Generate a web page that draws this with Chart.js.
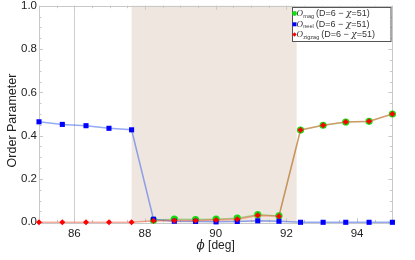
<!DOCTYPE html>
<html>
<head>
<meta charset="utf-8">
<script src="https://cdn.jsdelivr.net/npm/chart.js@4.4.0/dist/chart.umd.min.js"></script>
<style>
    html, body { margin: 0; padding: 0; background: #fff; }
    #wrap { width: 415px; height: 260px; }
</style>
</head>
<body>
<div id="wrap"><canvas id="orderChart"></canvas></div>
<script>
// phi values in degrees
const phi = [85.0, 85.66, 86.33, 86.98, 87.62, 88.24, 88.83, 89.43, 90.01, 90.61, 91.19, 91.79, 92.4, 93.04, 93.68, 94.34, 95.0];
const magValues = [null, null, null, null, null, 0.010, 0.015, 0.013, 0.015, 0.019, 0.035, 0.030, 0.426, 0.448, 0.463, 0.466, 0.500];
const neelValues = [0.464, 0.452, 0.446, 0.434, 0.427, 0.014, 0.005, 0.004, 0.002, 0.004, 0.007, 0.005, 0.0, 0.0, 0.0, 0.0, 0.0];
const zigzagValues = [0, 0, 0, 0, 0, 0.007, 0.008, 0.008, 0.011, 0.014, 0.032, 0.028, 0.426, 0.448, 0.463, 0.466, 0.500];

const seriesNames = ['mag', 'neel', 'zigzag'];
const legendSuffix = ['(D=6 \u2212 ', '\u03C7', '=51)'];
const xTicks = [86, 88, 90, 92, 94];
const yTicks = [0, 0.2, 0.4, 0.6, 0.8, 1.0];
const shadeRange = [87.62, 92.29];
const gridAt = [86];
const xTitle = ['\u03D5', ' [deg]'];
const yTitle = 'Order Parameter';

function toPoints(values) {
    return phi.map((x, i) => ({ x: x, y: values[i] }));
}

const markerColors = ['#11dd11', '#0000ff', '#ff0000'];

// shading, grid line, frame and ticks (Mathematica style)
const framePlugin = {
    id: 'frame',
    beforeDatasetsDraw(chart) {
        const ctx = chart.ctx;
        const a = chart.chartArea;
        const x = chart.scales.x, y = chart.scales.y;
        ctx.save();
        const x0 = x.getPixelForValue(shadeRange[0]);
        const x1 = x.getPixelForValue(shadeRange[1]);
        ctx.fillStyle = '#efe6df';
        ctx.fillRect(x0, a.top, x1 - x0, a.bottom - a.top);

        ctx.strokeStyle = '#cfcfcf';
        ctx.lineWidth = 1;
        gridAt.forEach(v => {
            const px = Math.round(x.getPixelForValue(v)) + 0.5;
            ctx.beginPath();
            ctx.moveTo(px, a.top);
            ctx.lineTo(px, a.bottom);
            ctx.stroke();
        });

        ctx.strokeStyle = '#c8c8c8';
        ctx.strokeRect(Math.round(a.left) + 0.5, Math.round(a.top) + 0.5,
            Math.round(a.right - a.left), Math.round(a.bottom - a.top));

        // ticks on all four sides
        ctx.beginPath();
        for (let v = 85; v <= 95.001; v += 0.5) {
            const px = Math.round(x.getPixelForValue(v)) + 0.5;
            const len = xTicks.includes(Math.round(v * 10) / 10) ? 4 : 2.5;
            ctx.moveTo(px, a.bottom); ctx.lineTo(px, a.bottom - len);
            ctx.moveTo(px, a.top); ctx.lineTo(px, a.top + len);
        }
        for (let i = 0; i <= 20; i++) {
            const v = i * 0.05;
            const py = Math.round(y.getPixelForValue(v)) + 0.5;
            const len = i % 4 === 0 ? 4 : 2.5;
            ctx.moveTo(a.left, py); ctx.lineTo(a.left + len, py);
            ctx.moveTo(a.right, py); ctx.lineTo(a.right - len, py);
        }
        ctx.stroke();
        ctx.restore();
    },
    afterDraw(chart) {
        const ctx = chart.ctx;
        const a = chart.chartArea;
        ctx.save();
        ctx.fillStyle = '#222';
        ctx.textBaseline = 'middle';

        // y title
        ctx.save();
        ctx.translate(12.7, 120.5);
        ctx.rotate(-Math.PI / 2);
        ctx.textAlign = 'center';
        ctx.font = '12.5px "Liberation Sans", Arial, sans-serif';
        ctx.fillText(yTitle, 0, 0);
        ctx.restore();

        // x title
        ctx.font = 'italic 12px "DejaVu Serif", serif';
        const w0 = ctx.measureText(xTitle[0]).width;
        ctx.font = '12px "Liberation Sans", Arial, sans-serif';
        const w1 = ctx.measureText(xTitle[1]).width;
        let tx = (a.left + a.right) / 2 - (w0 + w1) / 2;
        ctx.textAlign = 'left';
        ctx.font = 'italic 12px "DejaVu Serif", serif';
        ctx.fillText(xTitle[0], tx, 246);
        ctx.font = '12px "Liberation Sans", Arial, sans-serif';
        ctx.fillText(xTitle[1], tx + w0, 246);

        // legend box
        const bx = 292.5, by = 7.5, bw = 98.5, bh = 34;
        ctx.fillStyle = '#fff';
        ctx.fillRect(bx, by, bw, bh);
        ctx.strokeStyle = '#555';
        ctx.lineWidth = 1;
        ctx.strokeRect(bx, by, bw, bh);

        const rows = [13.5, 24.3, 34.5];
        seriesNames.forEach((name, i) => {
            const ry = rows[i];
            ctx.fillStyle = markerColors[i];
            ctx.beginPath();
            if (i === 0) {
                ctx.arc(294.5, ry, 2.4, 0, Math.PI * 2);
            } else if (i === 1) {
                ctx.rect(292.5, ry - 2, 4, 4);
            } else {
                ctx.moveTo(294.5, ry - 2.2); ctx.lineTo(296.7, ry);
                ctx.lineTo(294.5, ry + 2.2); ctx.lineTo(292.3, ry);
                ctx.closePath();
            }
            ctx.fill();

            ctx.fillStyle = '#333';
            let cx = 296.5;
            ctx.font = 'italic 9px "Liberation Serif", serif';
            ctx.fillText('O', cx, ry);
            cx += ctx.measureText('O').width + 0.3;
            ctx.font = '5.5px "Liberation Sans", Arial, sans-serif';
            ctx.fillText(name, cx, ry + 2.5);
            cx += ctx.measureText(name).width + 2;
            ctx.font = '9px "Liberation Sans", Arial, sans-serif';
            ctx.fillText(legendSuffix[0], cx, ry);
            cx += ctx.measureText(legendSuffix[0]).width;
            ctx.font = 'italic 9px "DejaVu Serif", serif';
            ctx.fillText(legendSuffix[1], cx, ry);
            cx += ctx.measureText(legendSuffix[1]).width;
            ctx.font = '9px "Liberation Sans", Arial, sans-serif';
            ctx.fillText(legendSuffix[2], cx, ry);
        });
        ctx.restore();
    }
};

const tickFont = { family: '"Liberation Sans", Arial, sans-serif', size: 11.5 };

new Chart(document.getElementById('orderChart').getContext('2d'), {
    type: 'scatter',
    data: {
        datasets: [
            {
                label: 'O_mag (D=6 - chi=51)',
                data: toPoints(magValues),
                showLine: true,
                borderColor: 'rgba(40,190,0,0.4)',
                borderWidth: 1.3,
                pointStyle: 'circle',
                pointRadius: 3.6,
                pointBackgroundColor: markerColors[0],
                pointBorderWidth: 0,
                order: 3
            },
            {
                label: 'O_neel (D=6 - chi=51)',
                data: toPoints(neelValues),
                showLine: true,
                borderColor: 'rgba(60,100,235,0.55)',
                borderWidth: 1.5,
                pointStyle: 'rect',
                pointRadius: 3.6,
                pointBackgroundColor: markerColors[1],
                pointBorderWidth: 0,
                order: 2
            },
            {
                label: 'O_zigzag (D=6 - chi=51)',
                data: toPoints(zigzagValues),
                showLine: true,
                borderColor: 'rgba(240,70,40,0.45)',
                borderWidth: 1.6,
                pointStyle: 'rectRot',
                pointRadius: 3,
                pointBackgroundColor: markerColors[2],
                pointBorderWidth: 0,
                order: 1
            }
        ]
    },
    options: {
        responsive: true,
        maintainAspectRatio: false,
        animation: false,
        clip: false,
        layout: { padding: { left: 0, right: 22.6, top: 0, bottom: 0 } },
        plugins: {
            legend: { display: false },
            tooltip: { enabled: false }
        },
        scales: {
            x: {
                type: 'linear',
                min: 85,
                max: 95,
                grid: { display: false, drawTicks: false },
                border: { display: false },
                afterBuildTicks: scale => { scale.ticks = xTicks.map(v => ({ value: v })); },
                afterFit: scale => {
                    scale.height = 37.7;
                    scale.paddingLeft = 0;
                    scale.paddingRight = 0;
                },
                ticks: {
                    color: '#222',
                    font: tickFont,
                    padding: 5,
                    maxRotation: 0,
                    callback: v => String(v)
                }
            },
            y: {
                min: 0,
                max: 1,
                grid: { display: false, drawTicks: false },
                border: { display: false },
                afterBuildTicks: scale => { scale.ticks = yTicks.map(v => ({ value: v })); },
                afterFit: scale => {
                    scale.width = 39;
                    scale.paddingTop = 5.7;
                    scale.paddingBottom = 0;
                },
                ticks: {
                    color: '#222',
                    font: tickFont,
                    padding: 2,
                    callback: v => Number(v).toFixed(1)
                }
            }
        }
    },
    plugins: [framePlugin]
});
</script>
</body>
</html>
